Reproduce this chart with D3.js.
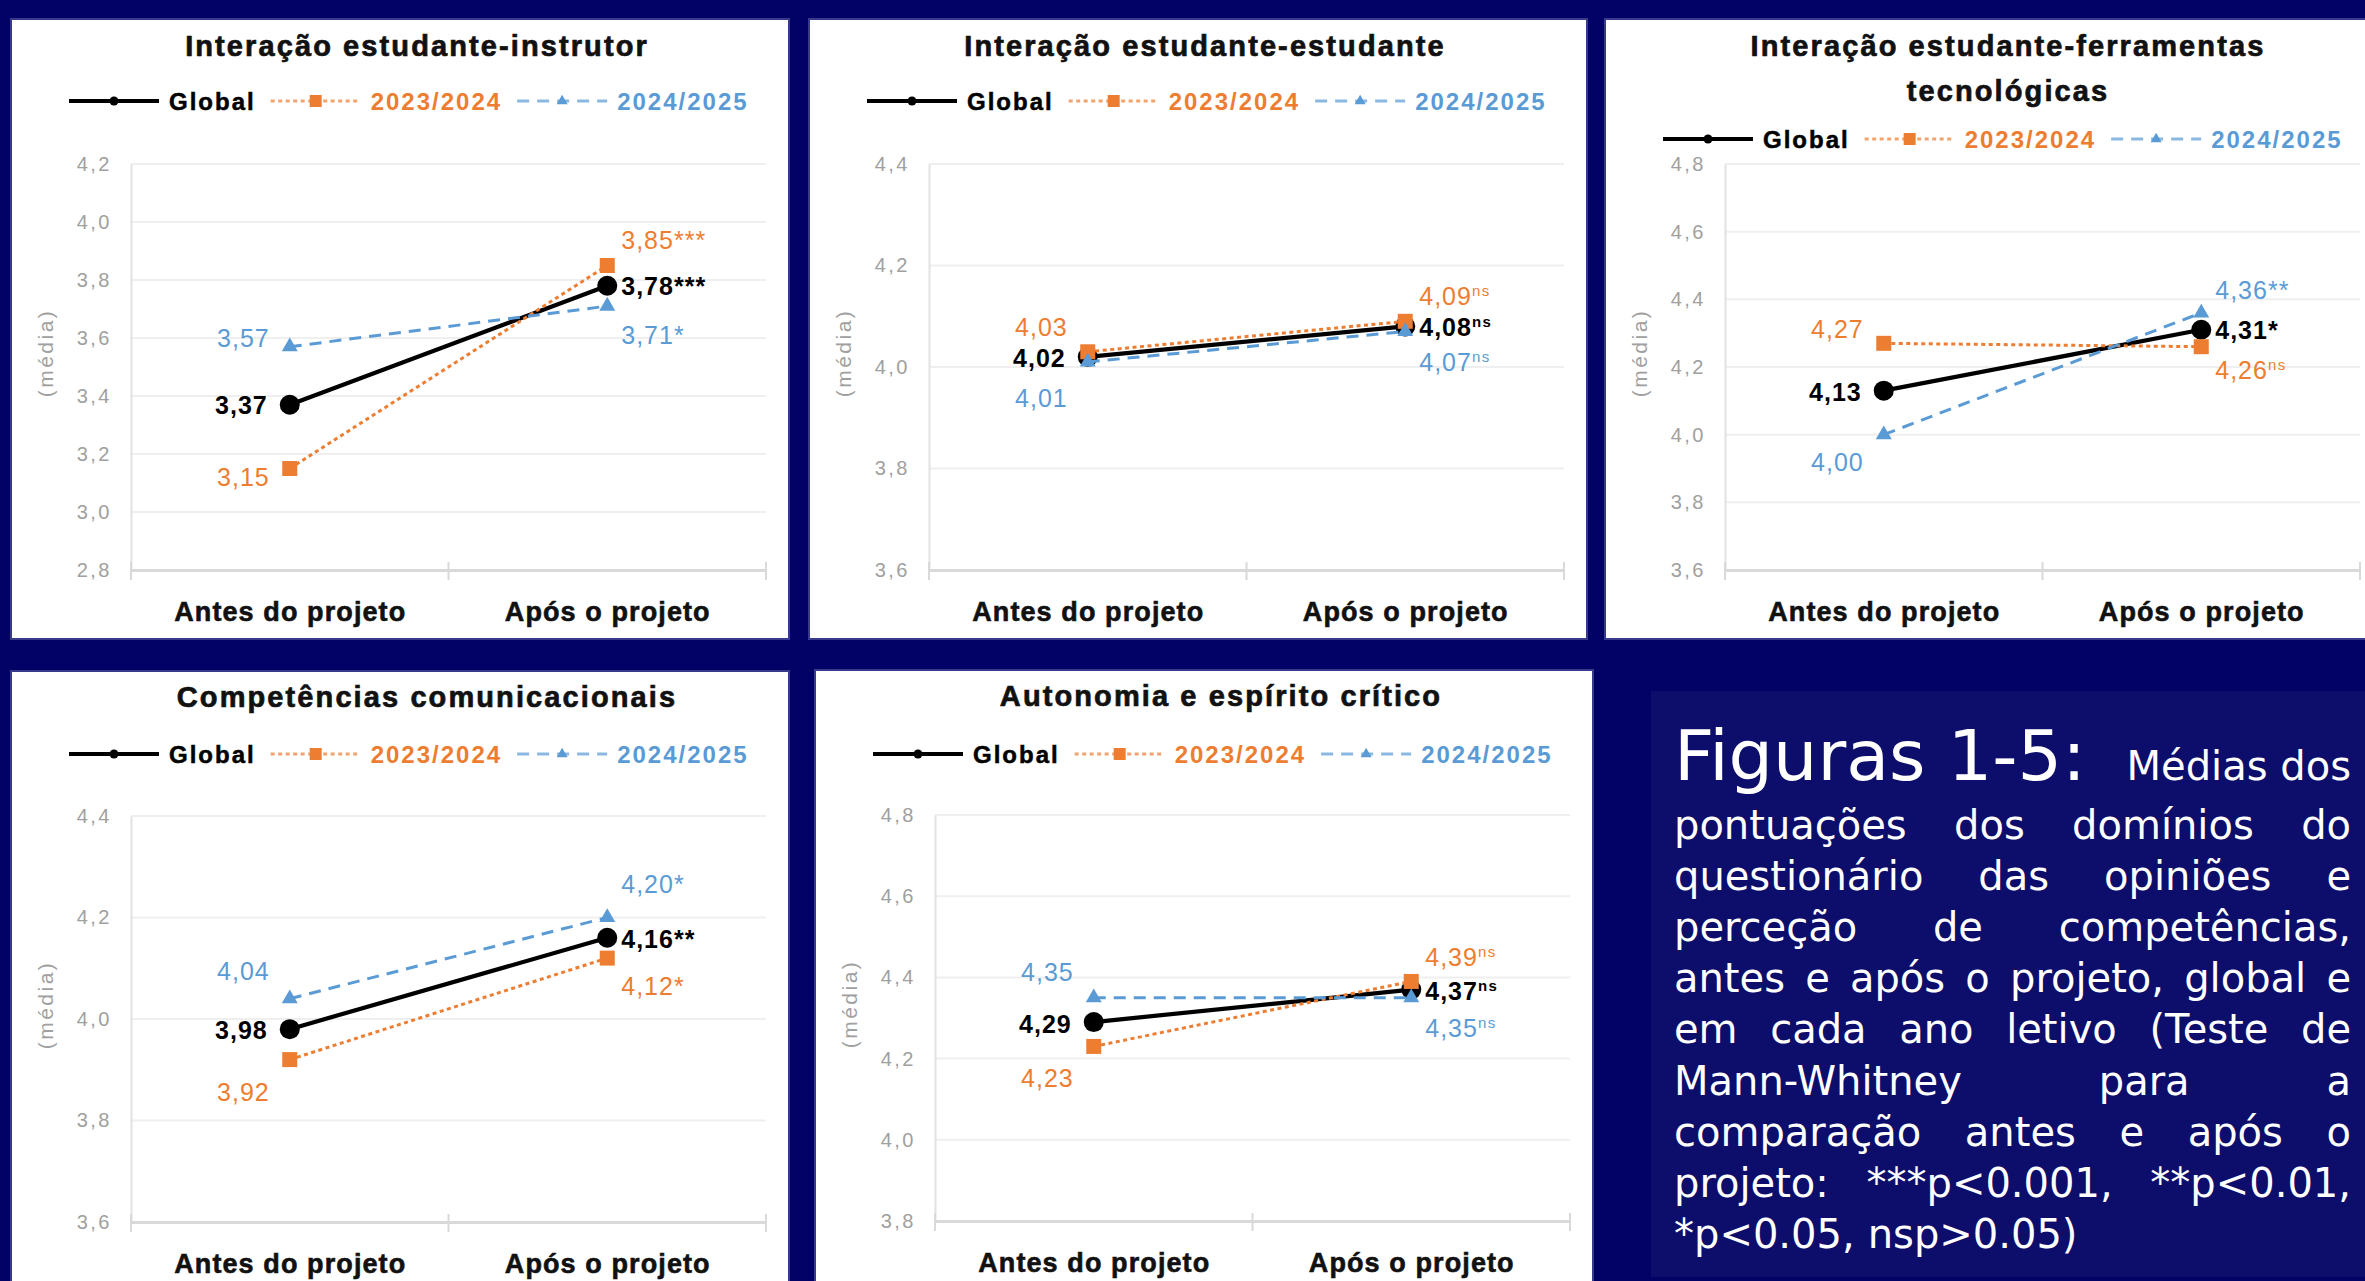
<!DOCTYPE html>
<html><head><meta charset="utf-8">
<script src="https://cdn.jsdelivr.net/npm/d3@7"></script>
<style>
html,body{margin:0;padding:0;background:#020266;}
svg{display:block;}
</style></head><body>
<svg id="chart" width="2365" height="1281"></svg>
<script>
// ---------------- DATA ----------------
const panelTitles = [
  ["Interação estudante-instrutor"],
  ["Interação estudante-estudante"],
  ["Interação estudante-ferramentas", "tecnológicas"],
  ["Competências comunicacionais"],
  ["Autonomia e espírito crítico"]
];
const categories = ["Antes do projeto", "Após o projeto"];
const seriesNames = ["Global", "2023/2024", "2024/2025"];
const globalMeans   = [[3.37, 3.78], [4.02, 4.08], [4.13, 4.31], [3.98, 4.16], [4.29, 4.37]];
const year2324Means = [[3.15, 3.85], [4.03, 4.09], [4.27, 4.26], [3.92, 4.12], [4.23, 4.39]];
const year2425Means = [[3.57, 3.71], [4.01, 4.07], [4.00, 4.36], [4.04, 4.20], [4.35, 4.35]];
const globalSig   = ["***", "ns", "*", "**", "ns"];
const year2324Sig = ["***", "ns", "ns", "*", "ns"];
const year2425Sig = ["*", "ns", "**", "*", "ns"];
const yTickValues = [
  [2.8, 3.0, 3.2, 3.4, 3.6, 3.8, 4.0, 4.2],
  [3.6, 3.8, 4.0, 4.2, 4.4],
  [3.6, 3.8, 4.0, 4.2, 4.4, 4.6, 4.8],
  [3.6, 3.8, 4.0, 4.2, 4.4],
  [3.8, 4.0, 4.2, 4.4, 4.6, 4.8]
];
const yAxisTitle = "(média)";
const captionHead = "Figuras 1-5:";
const captionHeadTail = "Médias dos";
const captionLines = [
  "pontuações dos domínios do",
  "questionário das opiniões e",
  "perceção de competências,",
  "antes e após o projeto, global e",
  "em cada ano letivo (Teste de",
  "Mann-Whitney para a",
  "comparação antes e após o",
  "projeto: ***p<0.001, **p<0.01,",
  "*p<0.05, nsp>0.05)"
];

// ---------------- LAYOUT / STYLE ----------------
const panelPos = [[11, 19], [809, 19], [1605, 19], [11, 671], [815, 670]];
const PW = 778, PH = 620;
const plot = {left: 120, right: 755, top: 145, bottom: 551};
const titleCenterX = [406, 396, 403, 416, 406];
const titleBaseY = [37, 37, 37, 36, 36];
const legendY = [82, 82, 120, 83, 84];
// label vertical offsets per panel: [series][category]
const labelDy = [
  [[0, 0], [8, -26], [-9, 29]],
  [[1, 1], [-25, -25], [36, 31]],
  [[1, 0], [-14, 23], [27, -23]],
  [[1, 1], [32, 28], [-28, -34]],
  [[2, 1], [32, -24], [-26, 30]]
];
const chartFont = "'Liberation Sans', Arial, sans-serif";
const seriesStyle = [
  {stroke: "#000000", width: 4.2, dash: null, marker: d3.symbolCircle, area: Math.PI * 10 * 10, legendArea: Math.PI * 4.5 * 4.5, text: "#000000", weight: "bold"},
  {stroke: "#ED7D31", width: 3, dash: "4 3.5", marker: d3.symbolSquare, area: 15 * 15, legendArea: 12 * 12, text: "#ED7D31", weight: "normal"},
  {stroke: "#5B9BD5", width: 3, dash: "12 8", marker: d3.symbolTriangle, area: 16 * 16 * Math.sqrt(3) / 4, legendArea: 11 * 11 * Math.sqrt(3) / 4, text: "#5B9BD5", weight: "normal"}
];
const seriesValues = [globalMeans, year2324Means, year2425Means];
const seriesSig = [globalSig, year2324Sig, year2425Sig];

const fmtTick = v => d3.format(".1f")(v).replace(".", ",");
const fmtVal = v => d3.format(".2f")(v).replace(".", ",");

const svg = d3.select("#chart");
svg.append("rect").attr("width", 2365).attr("height", 1281).attr("fill", "#020266");

panelPos.forEach((pos, i) => {
  const g = svg.append("g").attr("transform", `translate(${pos[0]},${pos[1]})`);
  g.append("rect").attr("width", PW).attr("height", PH).attr("fill", "#ffffff")
    .attr("stroke", "#3a3a8c").attr("stroke-width", 2);

  // title
  panelTitles[i].forEach((t, k) => {
    g.append("text").attr("x", titleCenterX[i]).attr("y", titleBaseY[i] + k * 45)
      .attr("text-anchor", "middle").attr("font-family", chartFont).attr("font-weight", "bold")
      .attr("font-size", 29).attr("letter-spacing", 2.1).attr("fill", "#111")
      .attr("stroke", "#111").attr("stroke-width", 0.7).text(t);
  });

  // legend
  let lx = 58;
  const ly = legendY[i];
  seriesNames.forEach((name, s) => {
    const st = seriesStyle[s];
    g.append("line").attr("x1", lx).attr("x2", lx + 90).attr("y1", ly).attr("y2", ly)
      .attr("stroke", st.stroke).attr("stroke-width", st.width).attr("stroke-dasharray", st.dash)
      .attr("opacity", s === 0 ? 1 : 0.7);
    g.append("path").attr("d", d3.symbol().type(st.marker).size(st.legendArea)())
      .attr("transform", `translate(${lx + 45},${ly})`).attr("fill", st.stroke);
    const t = g.append("text").attr("x", lx + 100).attr("y", ly + 8.6)
      .attr("font-family", chartFont).attr("font-weight", "bold").attr("font-size", 24)
      .attr("letter-spacing", 2).attr("fill", st.text)
      .attr("stroke", s === 0 ? st.text : "none").attr("stroke-width", 0.5).text(name);
    lx = lx + 100 + t.node().getComputedTextLength() + 15;
  });

  // scales
  const yDom = d3.extent(yTickValues[i]);
  const y = d3.scaleLinear().domain(yDom).range([plot.bottom, plot.top]);
  const x = d3.scalePoint().domain(categories).range([plot.left, plot.right]).padding(0.5);
  const band = d3.scaleBand().domain(categories).range([plot.left, plot.right]);

  // gridlines
  g.selectAll(null).data(yTickValues[i].slice(1)).join("line")
    .attr("x1", plot.left).attr("x2", plot.right)
    .attr("y1", d => y(d)).attr("y2", d => y(d))
    .attr("stroke", "#efefef").attr("stroke-width", 2);

  // y axis
  const yAxisG = g.append("g").attr("transform", `translate(${plot.left},0)`)
    .call(d3.axisLeft(y).tickValues(yTickValues[i]).tickSize(0).tickPadding(19).tickFormat(fmtTick));
  yAxisG.select(".domain").attr("stroke", "#e2e2e2").attr("stroke-width", 2);
  yAxisG.selectAll("text").attr("font-family", chartFont).attr("font-size", 20)
    .attr("letter-spacing", 2.5).attr("fill", "#a0a0a0");

  // x axis
  const xAxisG = g.append("g").attr("transform", `translate(0,${plot.bottom})`)
    .call(d3.axisBottom(x).tickSize(0).tickSizeOuter(0));
  xAxisG.select(".domain").attr("stroke", "#d9d9d9").attr("stroke-width", 3);
  xAxisG.selectAll("text").attr("y", 51).attr("dy", 0)
    .attr("font-family", chartFont).attr("font-weight", "bold").attr("font-size", 27)
    .attr("letter-spacing", 1.1).attr("fill", "#111").attr("stroke", "#111").attr("stroke-width", 0.6);
  const bounds = categories.map(c => band(c)).concat([plot.right]);
  xAxisG.selectAll(null).data(bounds).join("line")
    .attr("x1", d => d).attr("x2", d => d).attr("y1", -8).attr("y2", 10)
    .attr("stroke", "#d9d9d9").attr("stroke-width", 2);

  // y axis title
  g.append("text").attr("transform", "translate(36,334) rotate(-90)")
    .attr("text-anchor", "middle").attr("dominant-baseline", "middle")
    .attr("font-family", chartFont).attr("font-size", 21).attr("letter-spacing", 2.5)
    .attr("fill", "#a0a0a0").text(yAxisTitle);

  // series
  seriesNames.forEach((name, s) => {
    const st = seriesStyle[s];
    const vals = seriesValues[s][i];
    const line = d3.line().x((d, j) => x(categories[j])).y(d => y(d));
    g.append("path").attr("d", line(vals)).attr("fill", "none")
      .attr("stroke", st.stroke).attr("stroke-width", st.width).attr("stroke-dasharray", st.dash);
    g.selectAll(null).data(vals).join("path")
      .attr("d", d3.symbol().type(st.marker).size(st.area)())
      .attr("transform", (d, j) => `translate(${x(categories[j])},${y(d)})`)
      .attr("fill", st.stroke);
  });

  // labels
  seriesNames.forEach((name, s) => {
    const st = seriesStyle[s];
    const vals = seriesValues[s][i];
    vals.forEach((v, j) => {
      const px = x(categories[j]), py = y(v);
      const t = g.append("text")
        .attr("x", j === 0 ? px - (s === 0 ? 22 : 20) : px + 14)
        .attr("y", py + labelDy[i][s][j]).attr("dy", "0.36em")
        .attr("text-anchor", j === 0 ? "end" : "start")
        .attr("font-family", chartFont).attr("font-size", 25).attr("letter-spacing", 1)
        .attr("font-weight", st.weight).attr("fill", st.text);
      t.append("tspan").text(fmtVal(v));
      if (j === 1) {
        const sig = seriesSig[s][i];
        if (sig === "ns") {
          t.append("tspan").attr("font-size", 15).attr("dy", "-0.6em").attr("letter-spacing", 1.5).text(sig);
        } else {
          t.append("tspan").text(sig);
        }
      }
    });
  });
});

// ---------------- CAPTION BOX ----------------
const capG = svg.append("g");
capG.append("rect").attr("x", 1651).attr("y", 691).attr("width", 720).attr("height", 586).attr("fill", "#0d0d6b");
const capLeft = 1674, capRight = 2351;
const capFont = "'DejaVu Sans', 'Open Sans', sans-serif";
capG.append("text").attr("x", capLeft).attr("y", 779.6)
  .attr("font-family", capFont).attr("font-size", 70).attr("fill", "#ffffff").text(captionHead);
capG.append("text").attr("x", capRight).attr("y", 779.6).attr("text-anchor", "end")
  .attr("font-family", capFont).attr("font-size", 40).attr("fill", "#ffffff").text(captionHeadTail);
captionLines.forEach((lineText, k) => {
  const words = lineText.split(" ");
  const yb = 839 + k * 51.1;
  const texts = words.map(w => capG.append("text").attr("y", yb)
    .attr("font-family", capFont).attr("font-size", 40).attr("fill", "#ffffff").text(w));
  const widths = texts.map(t => t.node().getComputedTextLength());
  const total = d3.sum(widths);
  const last = k === captionLines.length - 1;
  const gap = (!last && words.length > 1) ? (capRight - capLeft - total) / (words.length - 1) : 13;
  let cx = capLeft;
  texts.forEach((t, j) => { t.attr("x", cx); cx += widths[j] + gap; });
});
</script>
</body></html>
